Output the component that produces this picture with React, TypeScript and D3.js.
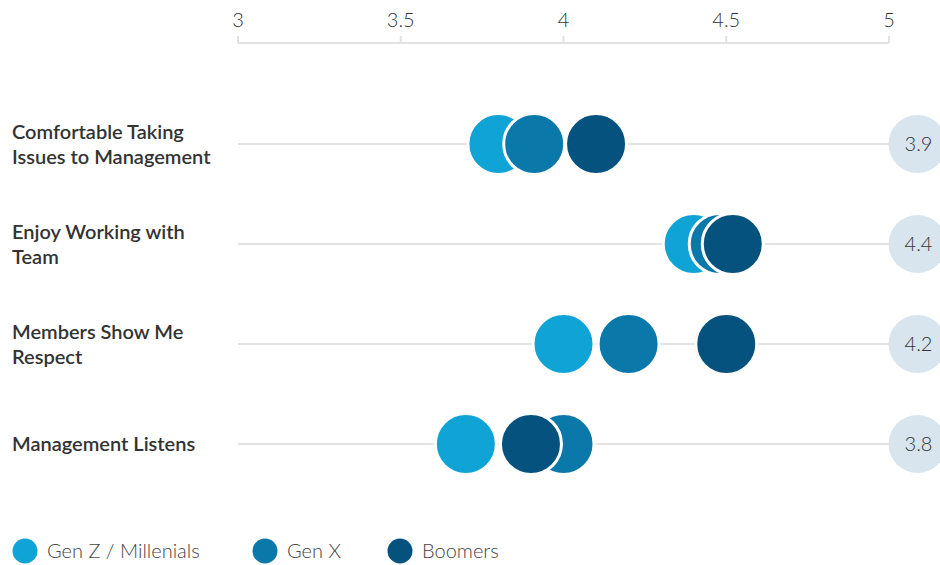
import React from 'react';
import * as d3 from 'd3';

// row labels (pre-wrapped as in the source)
const categories = [
  ['Comfortable Taking', 'Issues to Management'],
  ['Enjoy Working with', 'Team'],
  ['Members Show Me', 'Respect'],
  ['Management Listens'],
];

const seriesNames = ['Gen Z / Millenials', 'Gen X', 'Boomers'];
const seriesColors = ['#0fa3d6', '#0a78a9', '#05527f'];

const genZ = [3.8, 4.4, 4.0, 3.7];
const genX = [3.91, 4.48, 4.2, 4.0];
const boomers = [4.1, 4.52, 4.5, 3.9];

const averages = ['3.9', '4.4', '4.2', '3.8'];
const ticks = [3, 3.5, 4, 4.5, 5];

const W = 940;
const H = 565;
const FONT = 'Lato, "Open Sans", sans-serif';

const App: React.FC = () => {
  const x = d3.scaleLinear().domain([3, 5]).range([238, 889]);
  const y = d3.scalePoint<number>().domain(d3.range(categories.length)).range([144, 444]);
  const series = [genZ, genX, boomers];
  const r = 30.5;

  return (
    <div style={{ position: 'absolute', left: 0, top: 0 }}>
      <svg width={W} height={H} style={{ display: 'block', fontFamily: FONT }}>
        {/* top axis */}
        <line x1={x(3)} x2={x(5)} y1={43} y2={43} stroke="#e2e2e2" strokeWidth={2} />
        {ticks.map((t) => (
          <g key={t} transform={`translate(${x(t)},0)`}>
            <line y1={36} y2={43} stroke="#e2e2e2" strokeWidth={2} />
            <text y={27} textAnchor="middle" fontSize={20} fontWeight={300} fill="#333">
              {t}
            </text>
          </g>
        ))}

        {categories.map((lines, i) => {
          const cy = y(i)!;
          const lh = 25;
          const startY = cy - ((lines.length - 1) * lh) / 2 + 7;
          return (
            <g key={i}>
              <line x1={x(3)} x2={x(5.1)} y1={cy} y2={cy} stroke="#e3e3e3" strokeWidth={2} />
              <text x={12} fontSize={20} fontWeight={600} fill="#333">
                {lines.map((l, j) => (
                  <tspan key={j} x={12} y={startY + j * lh}>
                    {l}
                  </tspan>
                ))}
              </text>
              {series.map((s, k) => (
                <circle
                  key={k}
                  cx={x(s[i])}
                  cy={cy}
                  r={r}
                  fill={seriesColors[k]}
                  stroke="#fff"
                  strokeWidth={3}
                />
              ))}
              <circle cx={917.5} cy={cy} r={29} fill="#d8e4ee" />
              <text
                x={918.5}
                y={cy + 7}
                textAnchor="middle"
                fontSize={20}
                fontWeight={300}
                fill="#333"
              >
                {averages[i]}
              </text>
            </g>
          );
        })}

        {/* legend */}
        {seriesNames.map((name, k) => {
          const lx = [25, 265, 400][k];
          return (
            <g key={name} transform={`translate(${lx},551)`}>
              <circle r={12.5} fill={seriesColors[k]} />
              <text x={22} y={7} fontSize={20} fontWeight={300} fill="#444">
                {name}
              </text>
            </g>
          );
        })}
      </svg>
    </div>
  );
};

export default App;
